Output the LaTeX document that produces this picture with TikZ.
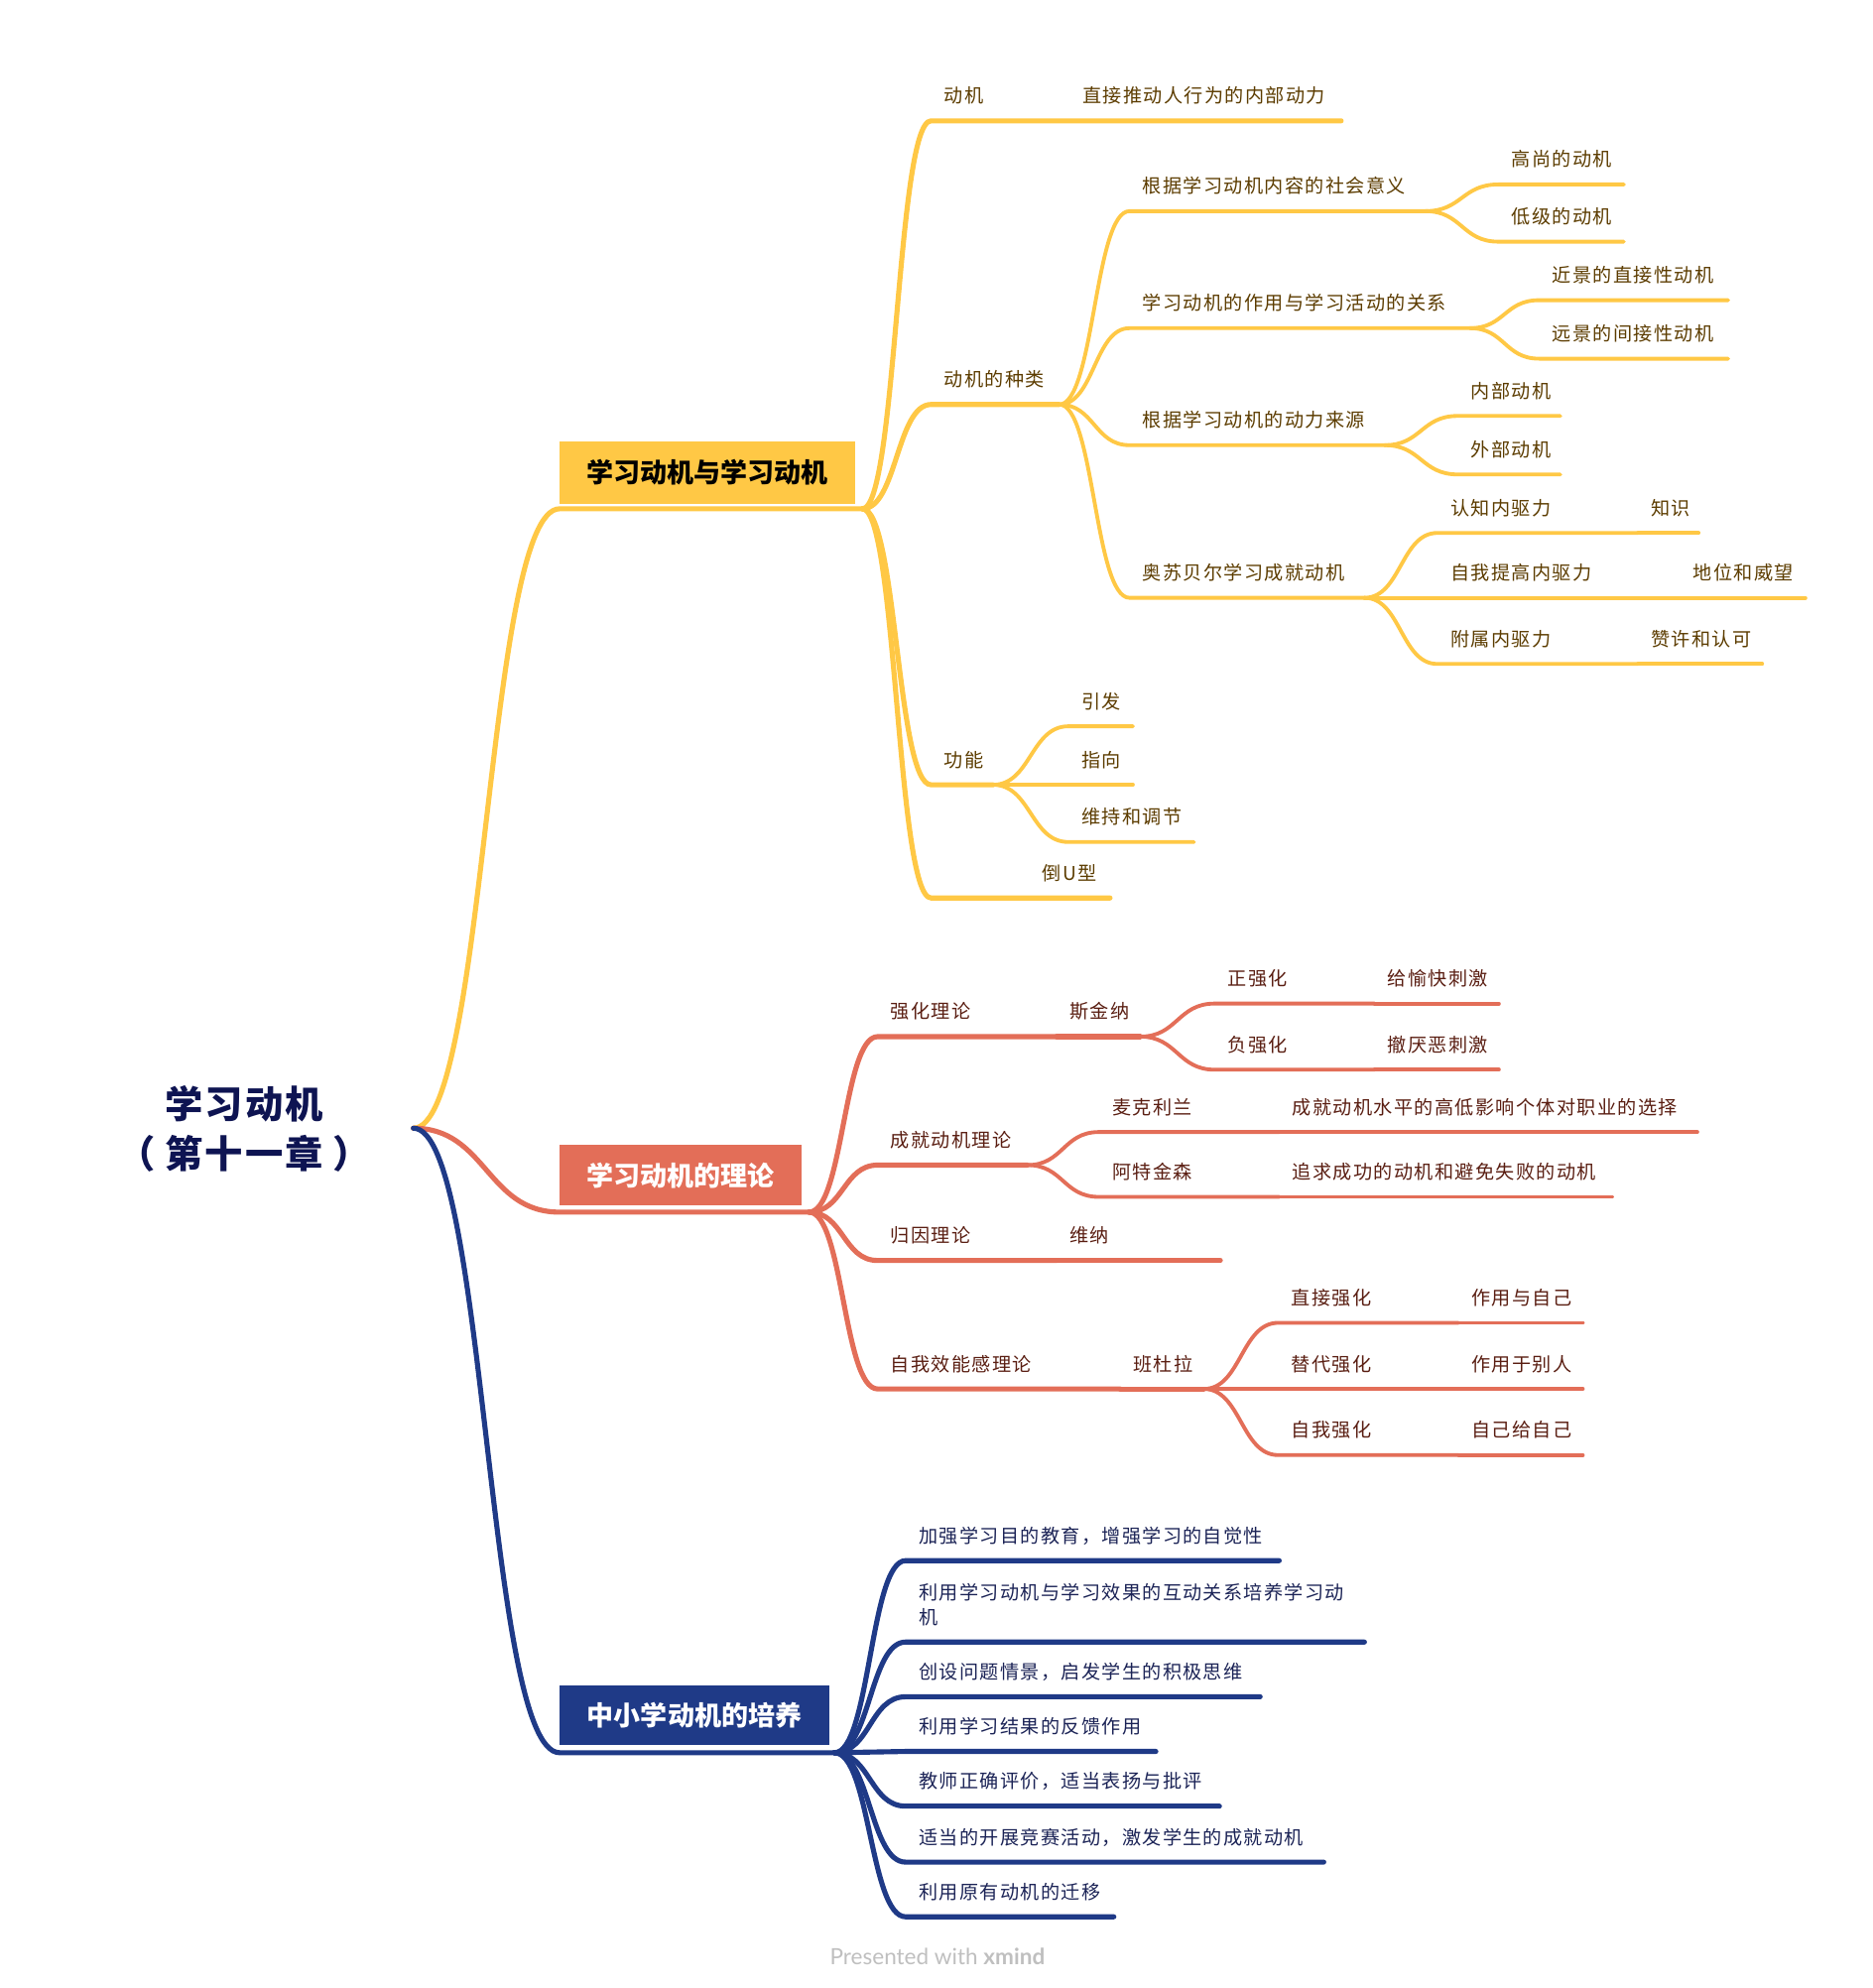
\documentclass[tikz,border=0pt]{standalone}
\usepackage{fontspec}
\setmainfont{Noto Sans CJK SC}
\newfontfamily\lblfont[LetterSpace=7]{Noto Sans CJK SC}
\newfontfamily\ttlfont[LetterSpace=5]{Noto Sans CJK SC}
\newfontfamily\footfont{Lato}
\usetikzlibrary{calc}

\definecolor{yel}{HTML}{FFC845}
\definecolor{red}{HTML}{E36E58}
\definecolor{nav}{HTML}{1F3A87}
\definecolor{ytx}{HTML}{5C3C00}
\definecolor{rtx}{HTML}{5A1E12}
\definecolor{ntx}{HTML}{1B2356}
\definecolor{ttx}{HTML}{0E1452}

\tikzset{
  link/.style={to path={.. controls ($(\tikztostart)!0.5!(\tikztotarget|-\tikztostart)$) and ($(\tikztotarget)!0.5!(\tikztostart|-\tikztotarget)$) .. (\tikztotarget)}},
  topic/.style={anchor=south west, inner xsep=0.2cm, inner ysep=7.8pt, text depth=0pt,
    text width=#1*0.02cm-0.4cm, align=left, font=\lblfont\fontsize{8.5}{10.8}\selectfont},
  box/.style={inner sep=0pt, font=\bfseries\fontsize{12}{14}\selectfont},
  ttl/.style={font=\ttlfont\bfseries\fontsize{17}{20}\selectfont, text=ttx},
  ln/.style={line width=0.06cm, line cap=round},
  thk/.style={line width=0.08cm, line cap=round}
}

\begin{document}
\begin{tikzpicture}[x=0.02cm, y=-0.02cm]
  \useasboundingbox (0,0) rectangle (1472,1563);

  % root
  \node[ttl] (ttl) at (192,868) {学习动机};
  \node[ttl] (ttl2) at (192,907) {（\hspace{0.25em}第十一章\hspace{0.25em}）};
  \coordinate (root) at (325,887);

  % main topics
  \node[box, fill=yel, text=black, minimum width=232*0.02cm, minimum height=49*0.02cm] (y1) at (556,371.5) {学习动机与学习动机};
  \node[box, fill=red, text=white, minimum width=190*0.02cm, minimum height=48*0.02cm] (r1) at (535,924) {学习动机的理论};
  \node[box, fill=nav, text=white, minimum width=212*0.02cm, minimum height=47*0.02cm] (n1) at (546,1348.5) {中小学动机的培养};
  \coordinate (y1a) at (440,400); \coordinate (y1b) at (678,400);
  \coordinate (r1a) at (440,953); \coordinate (r1b) at (636,953);
  \coordinate (n1a) at (440,1378); \coordinate (n1b) at (656,1378);
  \draw[thk, yel] (root) to[link] (y1a) -- (y1b);
  \draw[thk, red] (root) to[link] (r1a) -- (r1b);
  \draw[thk, nav] (root) to[link] (n1a) -- (n1b);

  % yellow branch
  \begin{scope}[every node/.append style={text=ytx}]
  \node[topic=108] (dj) at (732,95) {动机};
  \node[topic=213] (djdef) at (dj.south east) {直接推动人行为的内部动力};
  \node[topic=100] (zl) at (732,318) {动机的种类};
  \node[topic=232] (zl1) at (888,166) {根据学习动机内容的社会意义};
  \node[topic=98] (zl1a) at (1178,145) {高尚的动机};
  \node[topic=98] (zl1b) at (1178,190) {低级的动机};
  \node[topic=267] (zl2) at (888,258) {学习动机的作用与学习活动的关系};
  \node[topic=148] (zl2a) at (1210,236) {近景的直接性动机};
  \node[topic=148] (zl2b) at (1210,282) {远景的间接性动机};
  \node[topic=200] (zl3) at (888,350) {根据学习动机的动力来源};
  \node[topic=80] (zl3a) at (1146,327) {内部动机};
  \node[topic=80] (zl3b) at (1146,373) {外部动机};
  \node[topic=184] (zl4) at (888,470) {奥苏贝尔学习成就动机};
  \node[topic=157] (zl4a) at (1130,419) {认知内驱力};
  \node[topic=47] (zl4a1) at (zl4a.south east) {知识};
  \node[topic=190] (zl4b) at (1130,470) {自我提高内驱力};
  \node[topic=98] (zl4b1) at (zl4b.south east) {地位和威望};
  \node[topic=157] (zl4c) at (1130,522) {附属内驱力};
  \node[topic=97] (zl4c1) at (zl4c.south east) {赞许和认可};
  \node[topic=48] (gn) at (732,617) {功能};
  \node[topic=50] (gn1) at (840,571) {引发};
  \node[topic=50] (gn2) at (840,617) {指向};
  \node[topic=98] (gn3) at (840,662) {维持和调节};
  \node[topic=140, align=right] (du) at (732,706) {倒U型};
  \end{scope}
  \draw[thk, yel] (y1b) to[link] (dj.south west) -- (djdef.south east);
  \draw[thk, yel] (y1b) to[link] (zl.south west) -- (zl.south east);
  \draw[thk, yel] (y1b) to[link] (gn.south west) -- (gn.south east);
  \draw[thk, yel] (y1b) to[link] (du.south west) -- (du.south east);
  \foreach \a/\b in {zl/zl1, zl/zl2, zl/zl3, zl/zl4, zl1/zl1a, zl1/zl1b, zl2/zl2a, zl2/zl2b,
      zl3/zl3a, zl3/zl3b, zl4/zl4a, zl4/zl4b, zl4/zl4c, gn/gn1, gn/gn2, gn/gn3}
    \draw[ln, yel] (\a.south east) to[link] (\b.south west) -- (\b.south east);
  \draw[ln, yel] (zl4a.south east) -- (zl4a1.south east);
  \draw[ln, yel] (zl4b.south east) -- (zl4b1.south east);
  \draw[ln, yel] (zl4c.south east) -- (zl4c1.south east);

  % red branch
  \begin{scope}[every node/.append style={text=rtx}]
  \node[topic=140] (qh) at (690,815) {强化理论};
  \node[topic=65] (qh1) at (qh.south east) {斯金纳};
  \node[topic=125] (qh1a) at (955,789) {正强化};
  \node[topic=97] (qh1a1) at (qh1a.south east) {给愉快刺激};
  \node[topic=125] (qh1b) at (955,841) {负强化};
  \node[topic=97] (qh1b1) at (qh1b.south east) {撤厌恶刺激};
  \node[topic=117] (cj) at (690,916) {成就动机理论};
  \node[topic=141] (cj1) at (864,890) {麦克利兰};
  \node[topic=328] (cj1a) at (cj1.south east) {成就动机水平的高低影响个体对职业的选择};
  \node[topic=141] (cj2) at (864,941) {阿特金森};
  \node[topic=261] (cj2a) at (cj2.south east) {追求成功的动机和避免失败的动机};
  \node[topic=140] (gy) at (690,991) {归因理论};
  \node[topic=128] (gy1) at (gy.south east) {维纳};
  \node[topic=190] (xn) at (690,1092) {自我效能感理论};
  \node[topic=65] (xn1) at (xn.south east) {班杜拉};
  \node[topic=141] (xn1a) at (1005,1040) {直接强化};
  \node[topic=97] (xn1a1) at (xn1a.south east) {作用与自己};
  \node[topic=141] (xn1b) at (1005,1092) {替代强化};
  \node[topic=97] (xn1b1) at (xn1b.south east) {作用于别人};
  \node[topic=141] (xn1c) at (1005,1144) {自我强化};
  \node[topic=97] (xn1c1) at (xn1c.south east) {自己给自己};
  \end{scope}
  \foreach \b in {qh, cj, gy, xn}
    \draw[thk, red] (r1b) to[link] (\b.south west) -- (\b.south east);
  \draw[thk, red] (qh.south east) -- (qh1.south east);
  \draw[thk, red] (gy.south east) -- (gy1.south east);
  \draw[thk, red] (xn.south east) -- (xn1.south east);
  \foreach \a/\b in {qh1/qh1a, qh1/qh1b, cj/cj1, cj/cj2, xn1/xn1a, xn1/xn1b, xn1/xn1c}
    \draw[ln, red] (\a.south east) to[link] (\b.south west) -- (\b.south east);
  \foreach \a/\b in {qh1a/qh1a1, qh1b/qh1b1, cj1/cj1a, cj2/cj2a, xn1a/xn1a1, xn1b/xn1b1, xn1c/xn1c1}
    \draw[ln, red] (\a.south east) -- (\b.south east);

  % navy branch
  \begin{scope}[every node/.append style={text=ntx}]
  \node[topic=293] (py1) at (712,1227) {加强学习目的教育，增强学习的自觉性};
  \node[topic=360, text depth=10.8pt] (py2) at (712,1291) {利用学习动机与学习效果的互动关系培养学习动\\机};
  \node[topic=278] (py3) at (712,1334) {创设问题情景，启发学生的积极思维};
  \node[topic=196] (py4) at (712,1377) {利用学习结果的反馈作用};
  \node[topic=246] (py5) at (712,1420) {教师正确评价，适当表扬与批评};
  \node[topic=328] (py6) at (712,1464) {适当的开展竞赛活动，激发学生的成就动机};
  \node[topic=163] (py7) at (712,1507) {利用原有动机的迁移};
  \end{scope}
  \foreach \b in {py1, py2, py3, py4, py5, py6, py7}
    \draw[thk, nav] (n1b) to[link] (\b.south west) -- (\b.south east);

  \node[font=\footfont\fontsize{10}{12}\selectfont, text=black!25] (ft) at (737,1538) {Presented with \textbf{xmind}};
\end{tikzpicture}
\end{document}
